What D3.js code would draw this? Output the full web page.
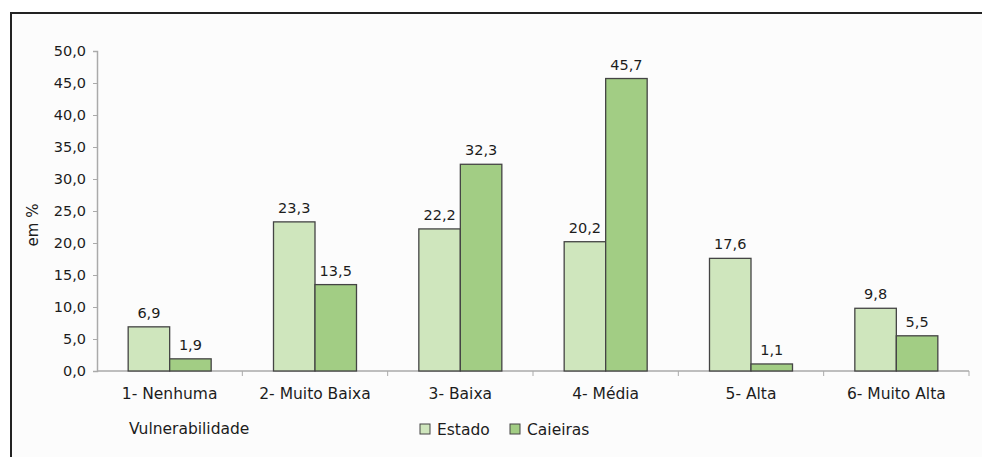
<!DOCTYPE html>
<html>
<head>
<meta charset="utf-8">
<script src="https://cdn.jsdelivr.net/npm/d3@7"></script>
<style>
  body { margin: 0; background: #fff; }
  text { font-family: "DejaVu Sans", Verdana, sans-serif; fill: #1c1c1c; }
</style>
</head>
<body>
<div id="chart"></div>
<script>
var categories = ["1- Nenhuma", "2- Muito Baixa", "3- Baixa", "4- Média", "5- Alta", "6- Muito Alta"];
var seriesNames = ["Estado", "Caieiras"];
var estado = [6.9, 23.3, 22.2, 20.2, 17.6, 9.8];
var caieiras = [1.9, 13.5, 32.3, 45.7, 1.1, 5.5];
var yTicks = [0, 5, 10, 15, 20, 25, 30, 35, 40, 45, 50];
var colors = ["#cfe6bd", "#a2cd84"];

var svgWidth = 982;
var svgHeight = 457;
var margin = { top: 51, left: 97, right: 13, bottom: 86 };
var width = svgWidth - margin.left - margin.right;
var height = svgHeight - margin.top - margin.bottom;

var svg = d3.select("#chart")
    .append("svg")
    .attr("width", svgWidth)
    .attr("height", svgHeight);

// frame
svg.append("rect")
    .attr("x", 0).attr("y", 0)
    .attr("width", svgWidth).attr("height", svgHeight)
    .attr("fill", "#fff");
svg.append("rect")
    .attr("x", 11).attr("y", 13)
    .attr("width", svgWidth).attr("height", svgHeight)
    .attr("fill", "#fcfcfc")
    .attr("stroke", "#222")
    .attr("stroke-width", 2);

var chartGroup = svg.append("g")
    .attr("transform", `translate(${margin.left}, ${margin.top})`);

var xScale = d3.scaleBand()
    .domain(categories)
    .range([0, width]);

var xInner = d3.scaleBand()
    .domain(seriesNames)
    .range([0, 83])
    .padding(0);

var yScale = d3.scaleLinear()
    .domain([0, 50])
    .range([height, 0]);

var fmt = d => d.toFixed(1).replace(".", ",");

// y axis
var leftAxis = d3.axisLeft(yScale)
    .tickValues(yTicks)
    .tickSize(4)
    .tickPadding(7)
    .tickFormat(fmt);
var yAxisG = chartGroup.append("g").call(leftAxis);
yAxisG.select(".domain").attr("stroke", "#aaa").attr("stroke-width", 1.5);
yAxisG.selectAll(".tick line").attr("stroke", "#aaa");
yAxisG.selectAll("text").attr("font-size", "14.5px").attr("fill", "#1c1c1c")
    .attr("font-family", "DejaVu Sans, Verdana, sans-serif");

// x axis: category boundary ticks
var xAxisG = chartGroup.append("g")
    .attr("transform", `translate(0, ${height})`);
xAxisG.append("line")
    .attr("x1", 0).attr("x2", width)
    .attr("stroke", "#aaa").attr("stroke-width", 1.5);
xAxisG.selectAll("line.bt")
    .data(categories)
    .enter()
    .append("line")
    .attr("class", "bt")
    .attr("x1", d => xScale(d) + xScale.bandwidth())
    .attr("x2", d => xScale(d) + xScale.bandwidth())
    .attr("y1", 0).attr("y2", 5)
    .attr("stroke", "#aaa");
xAxisG.selectAll("text")
    .data(categories)
    .enter()
    .append("text")
    .attr("x", d => xScale(d) + xScale.bandwidth() / 2)
    .attr("y", 28)
    .attr("text-anchor", "middle")
    .attr("font-size", "15.5px")
    .text(d => d);

// bars
var groups = chartGroup.selectAll("g.cat")
    .data(categories.map((c, i) => ({ cat: c, vals: [estado[i], caieiras[i]] })))
    .enter()
    .append("g")
    .attr("class", "cat")
    .attr("transform", d => `translate(${xScale(d.cat) + (xScale.bandwidth() - 83) / 2}, 0)`);

groups.selectAll("rect")
    .data(d => d.vals.map((v, j) => ({ name: seriesNames[j], value: v, j: j })))
    .enter()
    .append("rect")
    .attr("x", d => xInner(d.name))
    .attr("y", d => yScale(d.value))
    .attr("width", xInner.bandwidth())
    .attr("height", d => height - yScale(d.value))
    .attr("fill", d => colors[d.j])
    .attr("stroke", "#444")
    .attr("stroke-width", 1.3);

groups.selectAll("text")
    .data(d => d.vals.map((v, j) => ({ name: seriesNames[j], value: v })))
    .enter()
    .append("text")
    .attr("x", d => xInner(d.name) + xInner.bandwidth() / 2)
    .attr("y", d => yScale(d.value) - 9)
    .attr("text-anchor", "middle")
    .attr("font-size", "14.5px")
    .text(d => fmt(d.value));

// axis titles
svg.append("text")
    .attr("transform", "translate(38, 225) rotate(-90)")
    .attr("text-anchor", "middle")
    .attr("font-size", "15px")
    .text("em %");

svg.append("text")
    .attr("x", 129)
    .attr("y", 434)
    .attr("font-size", "15.5px")
    .text("Vulnerabilidade");

// legend
var legend = svg.append("g").attr("transform", "translate(420, 424)");
var legendX = [0, 90];
seriesNames.forEach(function (name, i) {
    legend.append("rect")
        .attr("x", legendX[i]).attr("y", 0)
        .attr("width", 10).attr("height", 10)
        .attr("fill", colors[i])
        .attr("stroke", "#444");
    legend.append("text")
        .attr("x", legendX[i] + 17)
        .attr("y", 10.5)
        .attr("font-size", "15.5px")
        .text(name);
});
</script>
</body>
</html>
